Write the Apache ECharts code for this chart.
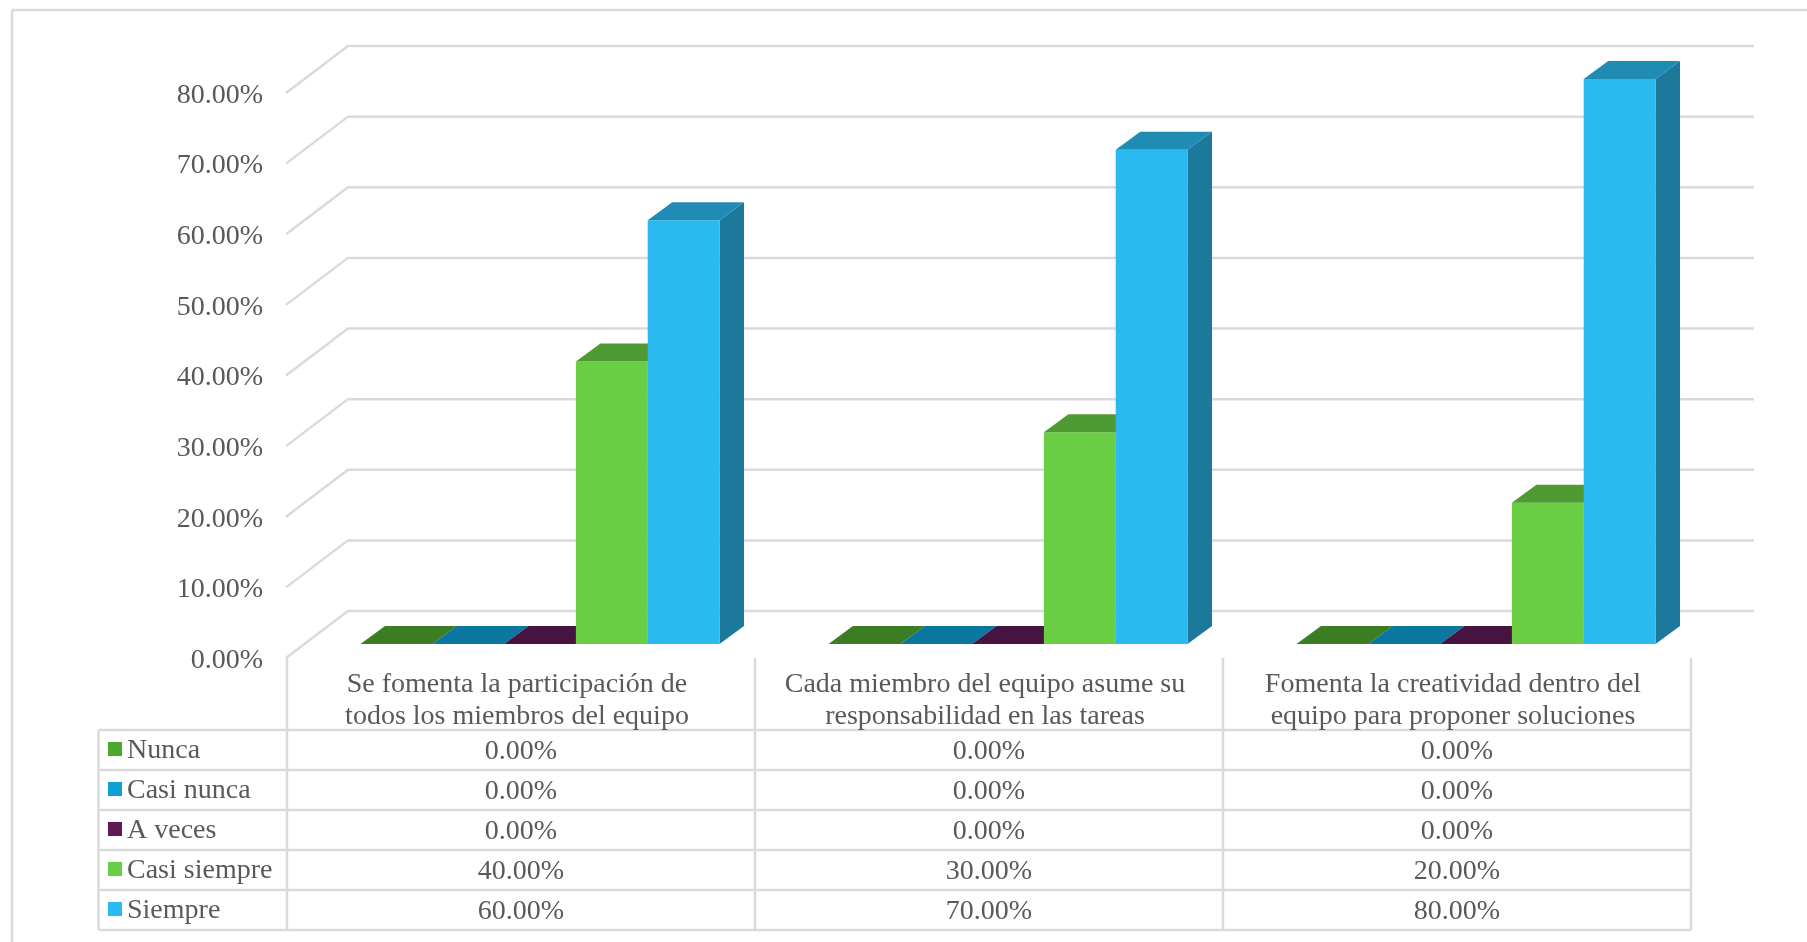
<!DOCTYPE html>
<html>
<head>
<meta charset="utf-8">
<style>html,body{margin:0;padding:0;background:#fff}#c{width:1807px;height:942px}</style>
<script src="https://cdn.jsdelivr.net/npm/echarts@6/dist/echarts.min.js"></script>
</head>
<body>
<div id="c"></div>
<script>
const categories = [
  "Se fomenta la participación de\ntodos los miembros del equipo",
  "Cada miembro del equipo asume su\nresponsabilidad en las tareas",
  "Fomenta la creatividad dentro del\nequipo para proponer soluciones"
];
const nunca = [0, 0, 0];
const casiNunca = [0, 0, 0];
const aVeces = [0, 0, 0];
const casiSiempre = [40, 30, 20];
const siempre = [60, 70, 80];
const seriesNames = ["Nunca", "Casi nunca", "A veces", "Casi siempre", "Siempre"];
const seriesValues = [nunca, casiNunca, aVeces, casiSiempre, siempre];
const seriesColors = ["#4EA72E", "#0F9ED5", "#5F1A56", "#69CE44", "#2BBAF0"];
const axisTicks = [0, 10, 20, 30, 40, 50, 60, 70, 80];

const FONT = '"Liberation Serif"';
const TXT = "#595959";
const LINE = "#dadada";
const LW = 2.5;
const G = {left: 287, top: 93, width: 1404, height: 565};
const rows = {top: 730, h: 40, left: 98.5, textDrop: 2};
const wall = {dx: 62, dy: 47, right: 1754};
const bar = {ratio: 0.15342, shift: 19, lift: 14, dx: 24.5, dy: 18};

function shade(hex, k) {
  const n = parseInt(hex.slice(1), 16);
  const c = [n >> 16, (n >> 8) & 255, n & 255].map(v => Math.round(v * k));
  return "rgb(" + c.join(",") + ")";
}
const pct = v => v.toFixed(2) + "%";

function barRenderer(si) {
  return function (params, api) {
    const cat = api.value(0), val = api.value(1);
    const base = api.coord([cat, 0]);
    const top = api.coord([cat, val]);
    const w = api.size([1, 0])[0] * bar.ratio;
    const x0 = base[0] + bar.shift + (si - 2.5) * w;
    const x1 = x0 + w;
    const yb = base[1] - bar.lift;
    const yt = top[1] - bar.lift;
    const col = seriesColors[si];
    const children = [];
    if (val > 0) {
      children.push({type: "polygon", shape: {points: [[x1, yt], [x1 + bar.dx, yt - bar.dy], [x1 + bar.dx, yb - bar.dy], [x1, yb]]},
        style: {fill: shade(col, 0.65)}});
      children.push({type: "rect", shape: {x: x0, y: yt, width: w, height: yb - yt}, style: {fill: col}});
    }
    children.push({type: "polygon", shape: {points: [[x0, yt], [x0 + bar.dx, yt - bar.dy], [x1 + bar.dx, yt - bar.dy], [x1, yt]]},
      style: {fill: shade(col, 0.75)}});
    children.push({type: "text", style: {text: pct(val), x: base[0], y: rows.top + rows.h * (si + 0.5) + rows.textDrop,
      align: "center", verticalAlign: "middle", fill: TXT, font: "28px " + FONT}});
    return {type: "group", children};
  };
}

function gridRenderer(params, api) {
  const p = api.coord([0, api.value(0)]);
  const y = p[1];
  return {type: "polyline", shape: {points: [[G.left - 1, y], [G.left - 1 + wall.dx, y - wall.dy], [wall.right, y - wall.dy]]},
    style: {stroke: LINE, lineWidth: LW, fill: null}};
}

const tableLines = [];
function addLine(x1, y1, x2, y2) {
  tableLines.push({type: "line", silent: true, shape: {x1, y1, x2, y2}, style: {stroke: LINE, lineWidth: LW}});
}
for (let i = 0; i <= seriesNames.length; i++) {
  const y = rows.top + i * rows.h;
  addLine(rows.left, y, G.left + G.width, y);
}
addLine(rows.left, rows.top, rows.left, rows.top + rows.h * seriesNames.length);
for (let i = 0; i <= categories.length; i++) {
  const x = G.left + i * G.width / categories.length;
  addLine(x, G.top + G.height, x, rows.top + rows.h * seriesNames.length);
}
addLine(12, 10, 1807, 10);
addLine(12, 10, 12, 942);

const chart = echarts.init(document.getElementById("c"), null, {renderer: "canvas"});
chart.setOption({
  animation: false,
  backgroundColor: "#fff",
  color: seriesColors,
  textStyle: {fontFamily: FONT},
  grid: {left: G.left, top: G.top, width: G.width, height: G.height, containLabel: false},
  graphic: {elements: tableLines},
  legend: {
    orient: "vertical", left: 108, top: 733, itemWidth: 14, itemHeight: 14, itemGap: 8,
    icon: "rect", selectedMode: false, padding: 0,
    data: seriesNames,
    formatter: n => "{a|" + n + "}",
    textStyle: {fontFamily: FONT, fontSize: 28, color: TXT,
      rich: {a: {fontFamily: FONT, fontSize: 28, color: TXT, lineHeight: 28, padding: [4, 0, 0, 0]}}}
  },
  xAxis: {
    type: "category", data: categories,
    axisLine: {show: false}, axisTick: {show: false}, splitLine: {show: false},
    axisLabel: {interval: 0, margin: 11, fontFamily: FONT, fontSize: 28, lineHeight: 32, color: TXT, padding: [0, 8, 0, 0]}
  },
  yAxis: {
    type: "value", min: 0, max: 80, interval: 10,
    axisLine: {show: false}, axisTick: {show: false}, splitLine: {show: false},
    axisLabel: {margin: 24, color: TXT, fontFamily: FONT, fontSize: 28,
      formatter: v => "{a|" + pct(v) + "}",
      rich: {a: {fontFamily: FONT, fontSize: 28, color: TXT, lineHeight: 28, padding: [5, 0, 0, 0]}}}
  },
  series: [
    {type: "custom", name: "grid", silent: true, clip: false, renderItem: gridRenderer,
     data: axisTicks.map(t => [t]), encode: {y: 0}, z: 1}
  ].concat(seriesNames.map((name, si) => ({
    type: "custom", name, clip: false, z: 2 + si,
    itemStyle: {color: seriesColors[si]},
    renderItem: barRenderer(si),
    encode: {x: 0, y: 1},
    data: seriesValues[si].map((v, c) => [c, v])
  })))
});
</script>
</body>
</html>
